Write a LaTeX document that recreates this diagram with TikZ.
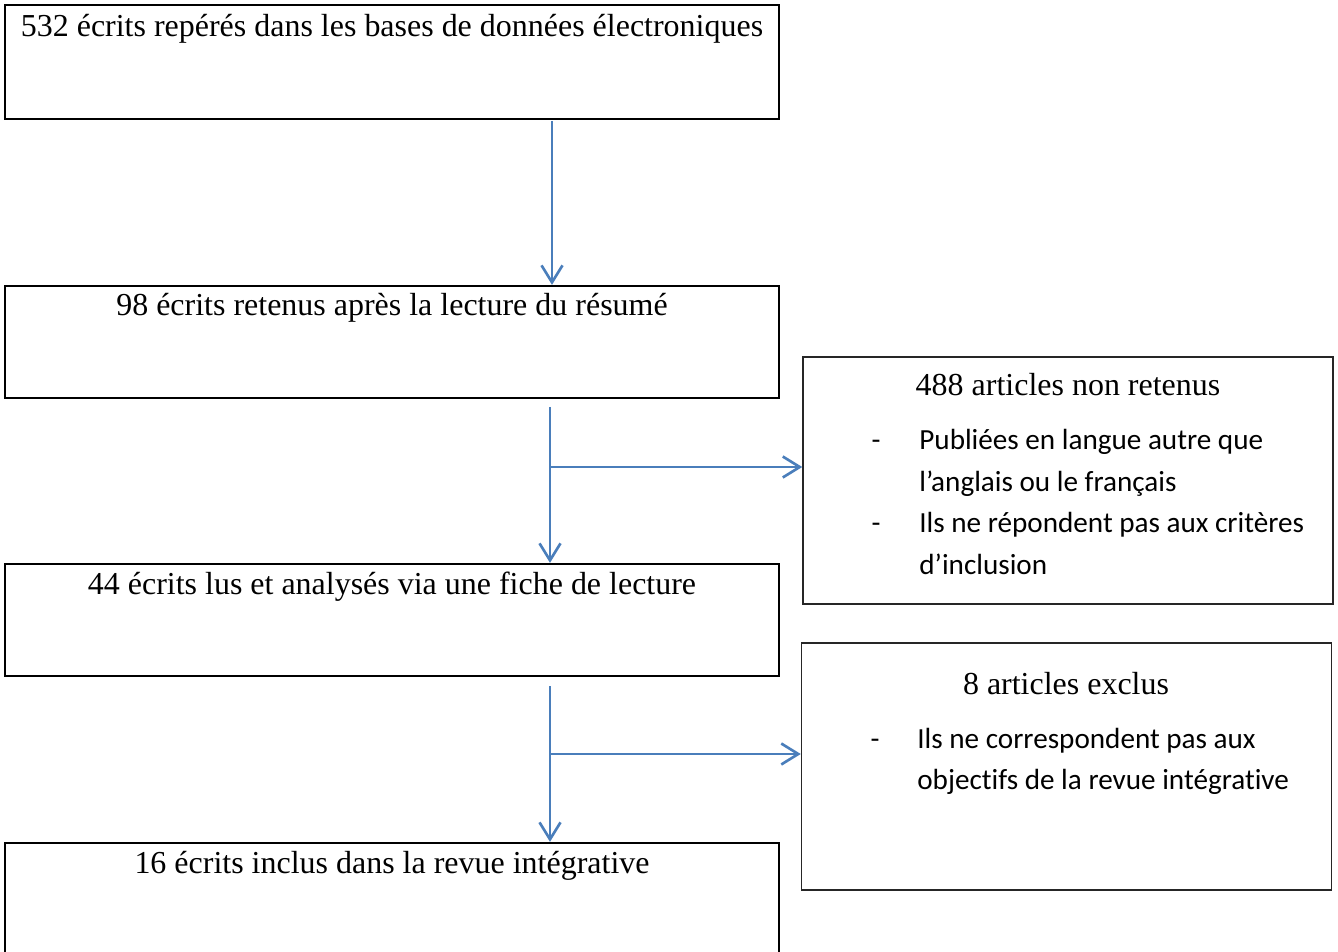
\documentclass[tikz,border=0pt]{standalone}
\usepackage{fontspec}
\setmainfont{Liberation Serif}
\newfontfamily\calibri[Ligatures=NoCommon]{Carlito}
\usetikzlibrary{positioning,arrows.meta,calc}
\definecolor{bleu}{RGB}{74,126,187}

\begin{document}
\begin{tikzpicture}[x=0.02cm,y=-0.02cm]
\tikzstyle{etape} = [draw=black,line width=1.3pt,shape=rectangle,inner sep=0pt,minimum width=15.48cm]
\tikzstyle{motif} = [draw=black!85,line width=0.9pt,shape=rectangle,inner sep=0pt,minimum width=10.6cm,minimum height=4.94cm]
\tikzstyle{titre} = [font=\fontsize{18.2}{21}\selectfont,anchor=base,inner sep=0pt]
\tikzstyle{puce} = [font=\calibri\fontsize{16.6}{20}\selectfont,anchor=base west,inner sep=0pt]
\tikzstyle{tiret} = [font=\calibri\fontsize{16.6}{20}\selectfont,anchor=base,inner sep=0pt]
\tikzstyle{fleche} = [draw=bleu,line width=1.5pt,-{Straight Barb[length=3.4mm,width=4.2mm]}]
\clip (0,0) rectangle (1338,952);
% etapes du tri
\node[etape,minimum height=2.28cm] (b1) at (392,62) {};
\node[etape,minimum height=2.24cm] (b2) at (392,342) {};
\node[etape,minimum height=2.24cm] (b3) at (392,620) {};
\node[etape,minimum height=2.28cm] (b4) at (392,900) {};
\node[titre] (t1) at (392,37) {532 écrits repérés dans les bases de données électroniques};
\node[titre] (t2) at (392,316) {98 écrits retenus après la lecture du résumé};
\node[titre] (t3) at (392,594) {44 écrits lus et analysés via une fiche de lecture};
\node[titre] (t4) at (392,873) {16 écrits inclus dans la revue intégrative};
% motifs d'exclusion
\node[motif] (r1) at (1068,480.5) {};
\node[motif] (r2) at (1066.5,766.5) {};
\node[titre] (m1) at (1068,396) {488 articles non retenus};
\node[tiret] (d1) at (876,450) {-};
\node[puce] (l1) at (919,450) {Publiées en langue autre que};
\node[puce] (l2) at (919,491) {l’anglais ou le français};
\node[tiret] (d2) at (876,532) {-};
\node[puce] (l3) at (919,532) {Ils ne répondent pas aux critères};
\node[puce] (l4) at (919,574) {d’inclusion};
\node[titre] (m2) at (1066,694) {8 articles exclus};
\node[tiret] (d3) at (875,748) {-};
\node[puce] (l5) at (917,748) {Ils ne correspondent pas aux};
\node[puce] (l6) at (917,789) {objectifs de la revue intégrative};
% fleches
\coordinate (a1) at (552,121);
\coordinate (a2) at (550,407);
\coordinate (a3) at (550,686);
\coordinate (c2) at (550,467);
\coordinate (c3) at (550,754);
\draw[fleche] (a1) -- (a1 |- b2.north);
\draw[fleche] (a2) -- (a2 |- b3.north);
\draw[fleche] (a3) -- (a3 |- b4.north);
\draw[fleche] (c2) -- (c2 -| r1.west);
\draw[fleche] (c3) -- (c3 -| r2.west);
\end{tikzpicture}
\end{document}
